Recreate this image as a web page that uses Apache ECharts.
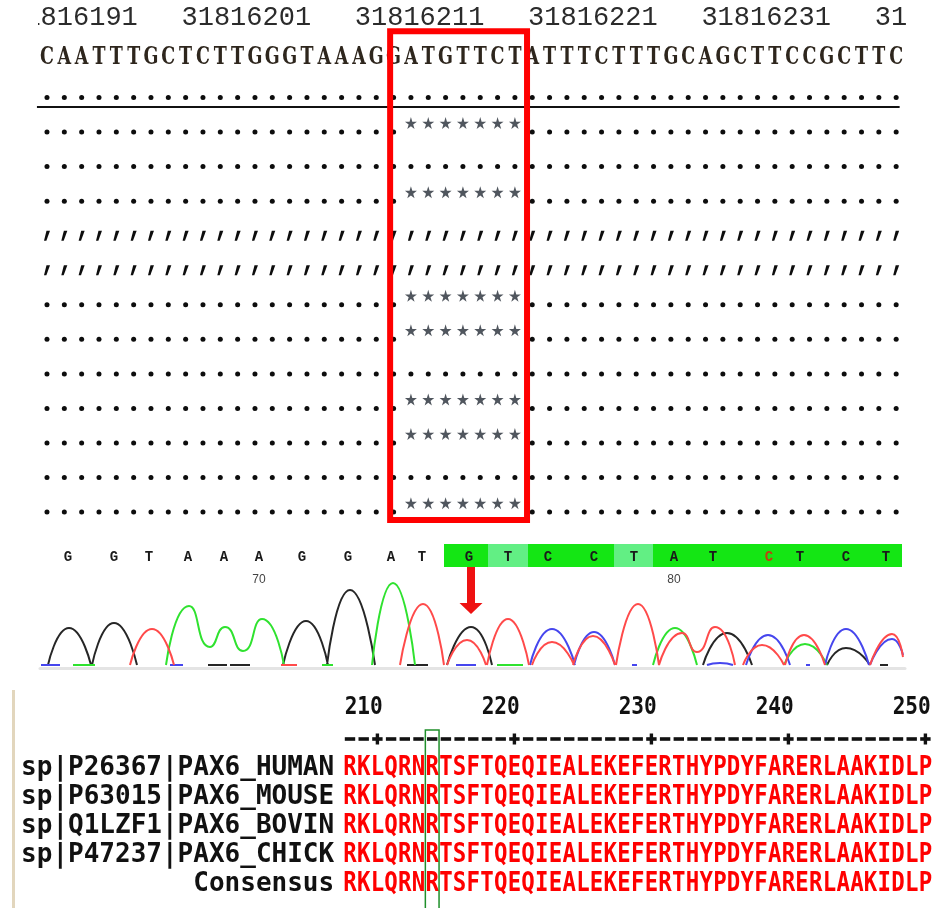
<!DOCTYPE html>
<html><head><meta charset="utf-8">
<script src="https://cdn.jsdelivr.net/npm/echarts@6/dist/echarts.min.js"></script>
<style>html,body{margin:0;padding:0;background:#fff}#c{width:933px;height:908px}</style>
</head><body><div id="c"></div>
<script>
// ===== Top panel: genomic alignment =====
const genomicTicks = [31816191, 31816201, 31816211, 31816221, 31816231, 31816241];
const genomicTickCols = [1.5, 11.5, 21.5, 31.5, 41.5, 51.5];
const refSequence = 'CAATTTGCTCTTGGGTAAAGGATGTTCTATTTCTTTGCAGCTTCCGCTTC';
// row types: S = deletion stars in box, D = dots, C = tick marks
const rowMarks = ['S','D','S','C','C','S','S','D','S','S','D','S'];
const deletedCols = [21, 22, 23, 24, 25, 26, 27];
const boxCols = [19.8, 27.7];
const boxRows = [-1.92, 12.23];

// ===== Middle panel: chromatogram =====
const baseCalls = ['G','G','T','A','A','A','G','G','A','T','G','T','C','C','T','A','T','C','T','C','T'];
const basePeakX = [68,114,149,188,224,259,302,348,391,422,469,508,548,594,634,674,713,769,800,846,886];
const flaggedBases = [17];
const baseNumbers = [70, 80];
const baseNumberX = [259, 674];
const qualityEdges = [444,488,528,571,614,653,693,741,785,823,866,902];
const qualityLevel = ['high','low','high','high','low','high','high','high','high','high','high'];
const mutationX = 471;
const traceBlack = [
  [[48,0],[69,37],[91,0]],
  [[92,0],[114,42],[137,0]],
  [[208,0],[227,0]], [[230,0],[250,0]],
  [[283,0],[306,44],[328,0]],
  [[327,0],[350,75],[375,0]],
  [[407,0],[428,0]],
  [[447,0],[471,38],[492,0]],
  [[703,0],[727,32],[752,0]],
  [[827,0],[846,17],[870,0]],
  [[880,0],[888,0]]
];
const traceRed = [
  [[130,0],[152,36],[174,0]],
  [[281,0],[297,0]],
  [[400,0],[423,61],[444,0]],
  [[447,0],[467,25],[486,0]],
  [[487,0],[508,46],[529,0]],
  [[532,0],[552,23],[574,0]],
  [[573,0],[593,29],[615,0]],
  [[616,0],[638,61],[659,0]],
  [[659,0],[682,32],[697,13],[715,38],[735,0]],
  [[743,0],[762,20],[784,0]],
  [[785,0],[804,30],[825,0]],
  [[870,0],[892,31],[903,8]]
];
const traceGreen = [
  [[73,0],[95,0]],
  [[166,0],[189,59],[210,18],[225,38],[243,14],[262,46],[284,0]],
  [[322,0],[333,0]],
  [[372,0],[393,82],[415,0]],
  [[497,0],[523,0]],
  [[653,0],[675,37],[697,0]],
  [[784,0],[805,21],[827,0]]
];
const traceBlue = [
  [[41,0],[60,0]],
  [[170,0],[183,0]],
  [[456,0],[476,0]],
  [[530,0],[552,36],[575,0]],
  [[574,0],[594,33],[615,0]],
  [[632,0],[637,0]],
  [[707,0],[720,2],[733,0]],
  [[746,0],[768,30],[790,0]],
  [[806,0],[810,0]],
  [[825,0],[846,36],[869,0]],
  [[870,0],[892,26],[903,10]]
];

// ===== Bottom panel: protein alignment =====
const proteinNames = ['sp|P26367|PAX6_HUMAN','sp|P63015|PAX6_MOUSE','sp|Q1LZF1|PAX6_BOVIN','sp|P47237|PAX6_CHICK','Consensus'];
const proteinSeqs = [
  'RKLQRNRTSFTQEQIEALEKEFERTHYPDYFARERLAAKIDLP',
  'RKLQRNRTSFTQEQIEALEKEFERTHYPDYFARERLAAKIDLP',
  'RKLQRNRTSFTQEQIEALEKEFERTHYPDYFARERLAAKIDLP',
  'RKLQRNRTSFTQEQIEALEKEFERTHYPDYFARERLAAKIDLP',
  'RKLQRNRTSFTQEQIEALEKEFERTHYPDYFARERLAAKIDLP'
];
const residueStart = 208;
const rulerTicks = [210, 220, 230, 240, 250];
const markedResidue = 214;

// ---------- helpers ----------
function textSeries(ax, items, st, extra) {
  return Object.assign({
    type: 'custom', coordinateSystem: 'cartesian2d', xAxisIndex: ax, yAxisIndex: ax,
    silent: true, animation: false,
    data: items.map(d => [d.x, d.y]),
    renderItem: function (params, api) {
      const d = items[params.dataIndex];
      const p = api.coord([d.x, d.y]);
      return {
        type: 'text', x: p[0] + (st.dx || 0), y: p[1] + (st.dy || 0),
        scaleX: st.scaleX || 1,
        style: { text: d.t, fill: d.fill || st.fill, font: st.font,
                 align: st.align || 'center', verticalAlign: 'middle' }
      };
    }
  }, extra || {});
}
function rectSeries(ax, rects, z) {
  return {
    type: 'custom', coordinateSystem: 'cartesian2d', xAxisIndex: ax, yAxisIndex: ax,
    silent: true, animation: false, z: z || 2,
    data: rects.map(r => [r.x0, r.y0]),
    renderItem: function (params, api) {
      const r = rects[params.dataIndex];
      const a = api.coord([r.x0, r.y0]), b = api.coord([r.x1, r.y1]);
      return {
        type: 'rect',
        shape: { x: Math.min(a[0], b[0]), y: Math.min(a[1], b[1]),
                 width: Math.abs(b[0] - a[0]), height: Math.abs(b[1] - a[1]) },
        style: r.style
      };
    }
  };
}
function flatten(segs) {
  const out = [];
  segs.forEach((s, i) => { if (i) out.push(['-', '-']); s.forEach(p => out.push(p)); });
  return out;
}

// ---------- top panel data ----------
const tickItems = genomicTicks.map((v, i) => ({ x: genomicTickCols[i], y: -2.3, t: String(v) }));
const seqItems = refSequence.split('').map((c, i) => ({ x: i, y: -1.17, t: c }));
const dots = [], commas = [], stars = [];
for (let c = 0; c < refSequence.length; c++) dots.push([c, 0]);
rowMarks.forEach((m, k) => {
  const r = k + 1;
  for (let c = 0; c < refSequence.length; c++) {
    if (m === 'S' && deletedCols.indexOf(c) >= 0) stars.push([c, r - 0.26]);
    else if (m === 'C') commas.push([c, r]);
    else dots.push([c, r]);
  }
});

// ---------- chromatogram data ----------
const callItems = baseCalls.map((b, i) => ({ x: basePeakX[i], y: 108, t: b,
  fill: flaggedBases.indexOf(i) >= 0 ? '#c0410f' : '#1a1a1a' }));
const numItems = baseNumbers.map((n, i) => ({ x: baseNumberX[i], y: 85, t: String(n) }));
const qualRects = qualityLevel.map((q, i) => ({ x0: qualityEdges[i], x1: qualityEdges[i + 1], y0: 98, y1: 121,
  style: { fill: q === 'high' ? '#14e614' : '#62ef84' } }));

// ---------- protein data ----------
const protItems = [];
proteinSeqs.forEach((s, r) => s.split('').forEach((c, i) => protItems.push({ x: residueStart + i, y: r, t: c })));
const rulerCells = [];
for (let i = 0; i < proteinSeqs[0].length; i++) {
  const res = residueStart + i;
  rulerCells.push([res, -1.0, rulerTicks.indexOf(res) >= 0 ? 1 : 0]);
}
const rulerNumItems = rulerTicks.map(t => ({ x: t - 1, y: -2.07, t: String(t) }));
const nameItems = proteinNames.map((n, r) => ({ x: residueStart - 0.5, y: r, t: n }));

const chart = echarts.init(document.getElementById('c'), null, { renderer: 'canvas' });
chart.setOption({
  backgroundColor: '#ffffff',
  animation: false,
  grid: [
    { left: 38.33, width: 866.5, top: 0.76, height: 545.9 },
    { left: 40, right: 28, top: 540, bottom: 240 },
    { left: 343.15, width: 589.1, top: 681, height: 220.4 }
  ],
  xAxis: [
    { gridIndex: 0, type: 'value', min: -0.5, max: 49.5, show: false },
    { gridIndex: 1, type: 'value', min: 40, max: 905,
      axisLine: { show: true, onZero: false, lineStyle: { color: '#e4e4e4', width: 3 } },
      axisTick: { show: false }, axisLabel: { show: false }, splitLine: { show: false } },
    { gridIndex: 2, type: 'value', min: 207.5, max: 250.5, show: false }
  ],
  yAxis: [
    { gridIndex: 0, type: 'value', min: -2.8, max: 13, inverse: true, show: false },
    { gridIndex: 1, type: 'value', min: -3, max: 125, show: false },
    { gridIndex: 2, type: 'value', min: -3, max: 4.6, inverse: true, show: false }
  ],
  graphic: [
    { type: 'rect', left: 12, top: 690, shape: { width: 3, height: 218 }, style: { fill: '#e2d6bd' }, silent: true }
  ],
  series: [
    // top panel
    textSeries(0, tickItems, { font: '27px "Liberation Mono"', fill: '#2b2b2b' }, { clip: true }),
    textSeries(0, seqItems, { font: 'bold 25px "DejaVu Serif"', fill: '#2e261d', scaleX: 0.7 }),
    { type: 'scatter', xAxisIndex: 0, yAxisIndex: 0, data: dots, symbol: 'circle', symbolSize: 5,
      itemStyle: { color: '#0d0d0d', opacity: 1 }, silent: true, animation: false },
    { type: 'scatter', xAxisIndex: 0, yAxisIndex: 0, data: commas,
      symbol: 'path://M3.2,0 L7.6,0 L3,10 L0,10 Z', symbolSize: [6, 10],
      itemStyle: { color: '#0d0d0d', opacity: 1 }, silent: true, animation: false },
    { type: 'scatter', xAxisIndex: 0, yAxisIndex: 0, data: stars,
      symbol: 'path://M50,0 L61,35 L98,35 L68,57 L79,91 L50,70 L21,91 L32,57 L2,35 L39,35 Z', symbolSize: 12,
      itemStyle: { color: '#50565e', opacity: 1 }, silent: true, animation: false },
    rectSeries(0, [{ x0: -0.58, x1: 49.2, y0: 0.245, y1: 0.305, style: { fill: '#111' } }], 3),
    rectSeries(0, [{ x0: boxCols[0], x1: boxCols[1], y0: boxRows[0], y1: boxRows[1],
      style: { fill: 'none', stroke: '#ff0000', lineWidth: 6 } }], 6),

    // chromatogram
    rectSeries(1, qualRects, 2),
    textSeries(1, callItems, { font: 'bold 14px "Liberation Mono"', fill: '#1a1a1a' }, { z: 4 }),
    textSeries(1, numItems, { font: '12px "Liberation Sans"', fill: '#444' }),
    { type: 'line', xAxisIndex: 1, yAxisIndex: 1, data: flatten(traceBlack), smooth: 0.6, showSymbol: false,
      lineStyle: { color: '#262626', width: 2 }, silent: true, animation: false, connectNulls: false },
    { type: 'line', xAxisIndex: 1, yAxisIndex: 1, data: flatten(traceGreen), smooth: 0.6, showSymbol: false,
      lineStyle: { color: '#2fe22f', width: 2 }, silent: true, animation: false, connectNulls: false },
    { type: 'line', xAxisIndex: 1, yAxisIndex: 1, data: flatten(traceBlue), smooth: 0.6, showSymbol: false,
      lineStyle: { color: '#4646ee', width: 2 }, silent: true, animation: false, connectNulls: false },
    { type: 'line', xAxisIndex: 1, yAxisIndex: 1, data: flatten(traceRed), smooth: 0.6, showSymbol: false,
      lineStyle: { color: '#ff4a4a', width: 2 }, silent: true, animation: false, connectNulls: false },
    { type: 'custom', coordinateSystem: 'cartesian2d', xAxisIndex: 1, yAxisIndex: 1, silent: true, animation: false, z: 5,
      data: [[mutationX, 98]],
      renderItem: function (params, api) {
        const top = api.coord([mutationX, 98]), tip = api.coord([mutationX, 51]);
        const x = top[0];
        return { type: 'group', children: [
          { type: 'rect', shape: { x: x - 4, y: top[1], width: 8, height: tip[1] - top[1] - 10 }, style: { fill: '#ee1111' } },
          { type: 'polygon', shape: { points: [[x - 11.5, tip[1] - 11], [x + 11.5, tip[1] - 11], [x, tip[1]]] }, style: { fill: '#ee1111' } }
        ] };
      } },

    // protein alignment
    textSeries(2, rulerNumItems, { font: 'bold 24px "DejaVu Sans Mono"', fill: '#111', scaleX: 0.88 }),
    { type: 'custom', coordinateSystem: 'cartesian2d', xAxisIndex: 2, yAxisIndex: 2, silent: true, animation: false,
      data: rulerCells,
      renderItem: function (params, api) {
        const p = api.coord([api.value(0), api.value(1)]);
        const kids = [{ type: 'rect', shape: { x: p[0] - 5.2, y: p[1] - 1.8, width: 10.4, height: 3.6 }, style: { fill: '#111' } }];
        if (api.value(2) === 1) kids.push({ type: 'rect', shape: { x: p[0] - 1.7, y: p[1] - 5.5, width: 3.4, height: 11 }, style: { fill: '#111' } });
        return { type: 'group', children: kids };
      } },
    textSeries(2, nameItems, { font: 'bold 26px "DejaVu Sans Mono"', fill: '#111', align: 'right', dx: -9 }),
    textSeries(2, protItems, { font: 'bold 26px "DejaVu Sans Mono"', fill: '#ff0000', scaleX: 0.86 }),
    rectSeries(2, [{ x0: markedResidue - 0.5, x1: markedResidue + 0.5, y0: -1.31, y1: 5.5,
      style: { fill: 'none', stroke: '#1f8f2a', lineWidth: 1.5 } }], 6)
  ]
});
</script>
</body></html>
